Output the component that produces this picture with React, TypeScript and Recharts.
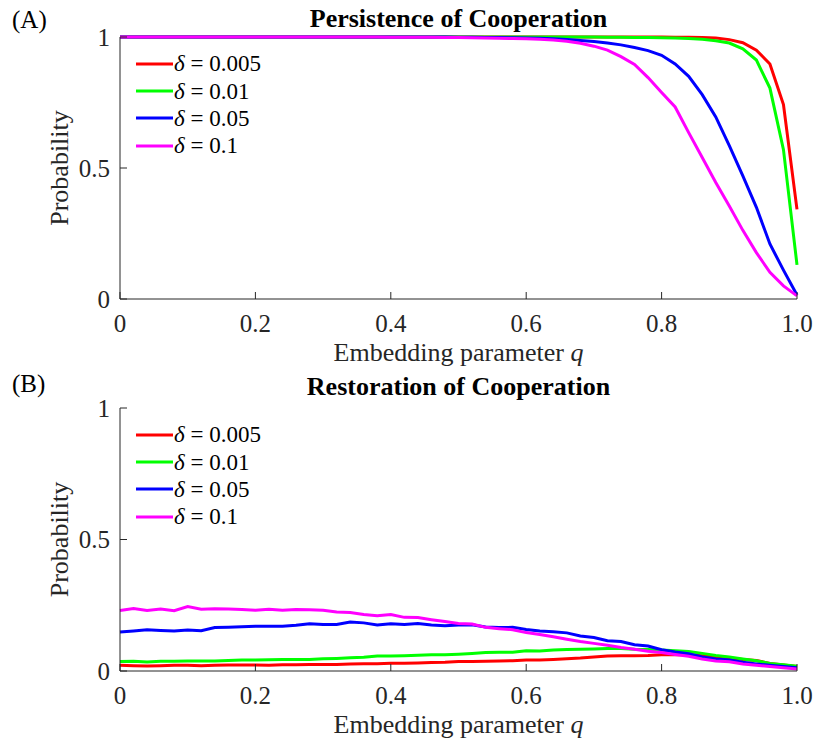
import React from 'react';
import { LineChart, Line, XAxis, YAxis, Legend } from 'recharts';

const FONT = '"Liberation Serif", "Times New Roman", Times, serif';
const AXIS_COLOR = '#262626';

const qValues = [
  0, 0.02, 0.04, 0.06, 0.08, 0.1, 0.12, 0.14, 0.16, 0.18,
  0.2, 0.22, 0.24, 0.26, 0.28, 0.3, 0.32, 0.34, 0.36, 0.38,
  0.4, 0.42, 0.44, 0.46, 0.48, 0.5, 0.52, 0.54, 0.56, 0.58,
  0.6, 0.62, 0.64, 0.66, 0.68, 0.7, 0.72, 0.74, 0.76, 0.78,
  0.8, 0.82, 0.84, 0.86, 0.88, 0.9, 0.92, 0.94, 0.96, 0.98,
  1,
];

const seriesNames = ['δ = 0.005', 'δ = 0.01', 'δ = 0.05', 'δ = 0.1'];
const seriesColors = ['#ff0000', '#00ff00', '#0000ff', '#ff00ff'];

const xTickValues = [0, 0.2, 0.4, 0.6, 0.8, 1];
const xTickLabels = ['0', '0.2', '0.4', '0.6', '0.8', '1.0'];
const yTickValues = [0, 0.5, 1];
const yTickLabels = ['0', '0.5', '1'];

// (A) Persistence of Cooperation
const persistRed = [
  1, 1, 1, 1, 1, 1, 1, 1, 1, 1,
  1, 1, 1, 1, 1, 1, 1, 1, 1, 1,
  1, 1, 1, 1, 1, 1, 1, 1, 1, 1,
  1, 1, 1, 1, 1, 1, 1, 1, 1, 1,
  1, 0.999, 0.999, 0.998, 0.996, 0.99, 0.978, 0.95, 0.897, 0.742,
  0.342,
];
const persistGreen = [
  1, 1, 1, 1, 1, 1, 1, 1, 1, 1,
  1, 1, 1, 1, 1, 1, 1, 1, 1, 1,
  1, 1, 1, 1, 1, 1, 1, 1, 1, 1,
  1, 1, 1, 1, 1, 1, 0.999, 0.999, 0.998, 0.998,
  0.997, 0.996, 0.994, 0.991, 0.986, 0.977, 0.955, 0.912, 0.805, 0.57,
  0.13,
];
const persistBlue = [
  1, 1, 1, 1, 1, 1, 1, 1, 1, 1,
  1, 1, 1, 1, 1, 1, 1, 1, 1, 1,
  1, 1, 1, 1, 1, 0.999, 0.999, 0.998, 0.998, 0.997,
  0.996, 0.995, 0.993, 0.99, 0.987, 0.983, 0.977, 0.97, 0.96, 0.948,
  0.93, 0.897, 0.85, 0.78, 0.695, 0.585, 0.47, 0.35, 0.21, 0.11,
  0.015,
];
const persistMagenta = [
  1, 1, 1, 1, 1, 1, 1, 1, 1, 1,
  1, 1, 1, 1, 1, 1, 1, 1, 1, 1,
  0.999, 0.999, 0.999, 0.999, 0.998, 0.998, 0.997, 0.996, 0.995, 0.994,
  0.993, 0.991, 0.989, 0.984, 0.976, 0.965, 0.95, 0.925, 0.895, 0.845,
  0.788, 0.733, 0.635, 0.54, 0.445, 0.355, 0.262, 0.177, 0.102, 0.05,
  0.012,
];

// (B) Restoration of Cooperation
const restoreRed = [
  0.022, 0.02, 0.019, 0.02, 0.022, 0.022, 0.02, 0.022, 0.023, 0.023,
  0.023, 0.022, 0.024, 0.024, 0.025, 0.025, 0.025, 0.027, 0.028, 0.028,
  0.029, 0.029, 0.03, 0.032, 0.033, 0.036, 0.036, 0.037, 0.038, 0.039,
  0.042, 0.042, 0.044, 0.047, 0.049, 0.053, 0.057, 0.058, 0.058, 0.059,
  0.062, 0.063, 0.062, 0.058, 0.054, 0.049, 0.044, 0.04, 0.029, 0.023,
  0.017,
];
const restoreGreen = [
  0.036, 0.037, 0.034, 0.037, 0.037, 0.038, 0.038, 0.038, 0.04, 0.042,
  0.042, 0.043, 0.044, 0.044, 0.044, 0.047, 0.048, 0.05, 0.052, 0.057,
  0.057, 0.058, 0.06, 0.062, 0.062, 0.064, 0.067, 0.07, 0.071, 0.071,
  0.077, 0.076, 0.08, 0.082, 0.083, 0.084, 0.086, 0.086, 0.083, 0.082,
  0.08, 0.077, 0.074, 0.067, 0.059, 0.053, 0.046, 0.039, 0.029, 0.024,
  0.018,
];
const restoreBlue = [
  0.148, 0.152, 0.157, 0.154, 0.152, 0.156, 0.153, 0.165, 0.166, 0.168,
  0.17, 0.17, 0.17, 0.174, 0.18, 0.177, 0.177, 0.186, 0.183, 0.175,
  0.18, 0.177, 0.181, 0.175, 0.172, 0.175, 0.176, 0.167, 0.165, 0.166,
  0.158, 0.152, 0.149, 0.145, 0.133, 0.127, 0.115, 0.112, 0.1, 0.095,
  0.081, 0.072, 0.066, 0.053, 0.046, 0.042, 0.033, 0.027, 0.022, 0.017,
  0.012,
];
const restoreMagenta = [
  0.23, 0.238, 0.23, 0.236, 0.229, 0.245, 0.235, 0.237, 0.236, 0.234,
  0.231, 0.235, 0.231, 0.234, 0.233, 0.231, 0.224, 0.222, 0.215, 0.21,
  0.215, 0.204, 0.203, 0.195, 0.188, 0.181, 0.179, 0.166, 0.161, 0.157,
  0.146, 0.139, 0.13, 0.121, 0.112, 0.105, 0.098, 0.089, 0.083, 0.075,
  0.07, 0.063, 0.056, 0.046, 0.038, 0.035, 0.027, 0.022, 0.017, 0.012,
  0.008,
];

const buildData = (series: number[][]) =>
  qValues.map((q, i) => ({
    q,
    s0: series[0][i],
    s1: series[1][i],
    s2: series[2][i],
    s3: series[3][i],
  }));

const persistData = buildData([persistRed, persistGreen, persistBlue, persistMagenta]);
const restoreData = buildData([restoreRed, restoreGreen, restoreBlue, restoreMagenta]);

const renderLegend = (props: any) => {
  const payload = props.payload || [];
  return (
    <div style={{ fontFamily: FONT, fontSize: 23, color: '#000' }}>
      {payload.map((entry: any, i: number) => (
        <div
          key={i}
          style={{ display: 'flex', alignItems: 'center', height: 27.4, whiteSpace: 'nowrap' }}
        >
          <svg width={38} height={8} style={{ display: 'block' }}>
            <line x1={0} y1={4} x2={37} y2={4} stroke={entry.color} strokeWidth={3} />
          </svg>
          <span style={{ lineHeight: '27px' }}>
            <i>{String(entry.value).slice(0, 1)}</i>
            {String(entry.value).slice(1)}
          </span>
        </div>
      ))}
    </div>
  );
};

const XLabel = (props: any) => {
  const vb = props.viewBox || { x: 0, y: 0, width: 0, height: 0 };
  return (
    <text
      x={vb.x + vb.width / 2}
      y={vb.y + 62}
      textAnchor="middle"
      fill={AXIS_COLOR}
      style={{ fontFamily: FONT, fontSize: 26 }}
    >
      Embedding parameter <tspan fontStyle="italic">q</tspan>
    </text>
  );
};

const YLabel = (props: any) => {
  const vb = props.viewBox || { x: 0, y: 0, width: 0, height: 0 };
  const x = 68;
  const y = vb.y + vb.height / 2;
  return (
    <text
      x={x}
      y={y}
      textAnchor="middle"
      transform={`rotate(-90 ${x} ${y})`}
      fill={AXIS_COLOR}
      style={{ fontFamily: FONT, fontSize: 26 }}
    >
      Probability
    </text>
  );
};

type PanelProps = {
  data: any[];
  bottom: number;
};

const Panel = ({ data, bottom }: PanelProps) => (
  <LineChart
    width={816}
    height={371}
    data={data}
    margin={{ top: 37, right: 19, bottom, left: 80 }}
  >
    <XAxis
      dataKey="q"
      type="number"
      domain={[0, 1]}
      ticks={xTickValues}
      tickFormatter={(v: number, i: number) => xTickLabels[i] ?? String(v)}
      height={60}
      tickSize={-7}
      tickMargin={22}
      stroke={AXIS_COLOR}
      tick={{ fill: AXIS_COLOR, fontSize: 25, fontFamily: FONT }}
      interval={0}
      label={{ content: <XLabel /> }}
    />
    <XAxis
      xAxisId="top"
      dataKey="q"
      type="number"
      orientation="top"
      domain={[0, 1]}
      allowDataOverflow
      ticks={xTickValues}
      height={0}
      tickSize={-7}
      tick={false}
      stroke={AXIS_COLOR}
      interval={0}
    />
    <YAxis
      type="number"
      domain={[0, 1]}
      ticks={yTickValues}
      tickFormatter={(v: number, i: number) => yTickLabels[i] ?? String(v)}
      width={40}
      tickSize={-7}
      tickMargin={17}
      stroke={AXIS_COLOR}
      tick={{ fill: AXIS_COLOR, fontSize: 25, fontFamily: FONT }}
      interval={0}
      label={{ content: <YLabel /> }}
    />
    <YAxis
      yAxisId="right"
      type="number"
      orientation="right"
      domain={[0, 1]}
      allowDataOverflow
      ticks={yTickValues}
      width={0}
      tickSize={-7}
      tick={false}
      stroke={AXIS_COLOR}
      interval={0}
    />
    <Legend
      layout="vertical"
      align="center"
      verticalAlign="middle"
      content={renderLegend}
      wrapperStyle={{ left: 136, top: 50, width: 'auto', height: 'auto' }}
    />
    {seriesNames.map((name, i) => (
      <Line
        key={name}
        type="linear"
        dataKey={`s${i}`}
        name={name}
        stroke={seriesColors[i]}
        strokeWidth={3}
        dot={false}
        activeDot={false}
        isAnimationActive={false}
      />
    ))}
  </LineChart>
);

export default function App() {
  return (
    <div
      style={{
        position: 'absolute',
        left: 0,
        top: 0,
        width: 816,
        height: 742,
        background: '#fff',
        overflow: 'hidden',
      }}
    >
      <Panel data={persistData} bottom={12} />
      <Panel data={restoreData} bottom={11} />
      <svg
        width={816}
        height={742}
        style={{ position: 'absolute', left: 0, top: 0, pointerEvents: 'none' }}
      >
        <text x={12} y={28} fill="#000" style={{ fontFamily: FONT, fontSize: 25 }}>
          (A)
        </text>
        <text
          x={458.5}
          y={27}
          textAnchor="middle"
          fill="#000"
          style={{ fontFamily: FONT, fontSize: 26, fontWeight: 'bold' }}
        >
          Persistence of Cooperation
        </text>
        <text x={12} y={392} fill="#000" style={{ fontFamily: FONT, fontSize: 25 }}>
          (B)
        </text>
        <text
          x={458.5}
          y={395}
          textAnchor="middle"
          fill="#000"
          style={{ fontFamily: FONT, fontSize: 26, fontWeight: 'bold' }}
        >
          Restoration of Cooperation
        </text>
      </svg>
    </div>
  );
}
